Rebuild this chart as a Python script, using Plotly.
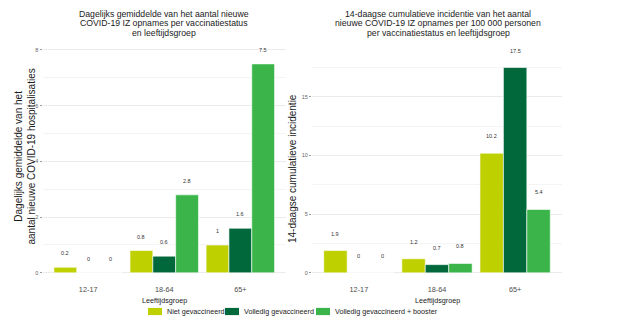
import plotly.graph_objects as go

# ---- data ----
categories = ["12-17", "18-64", "65+"]
series_names = ["Niet gevaccineerd", "Volledig gevaccineerd", "Volledig gevaccineerd + booster"]
daily_niet = [0.2, 0.8, 1.0]
daily_volledig = [0.0, 0.6, 1.6]
daily_booster = [0.0, 2.8, 7.5]
inc_niet = [1.9, 1.2, 10.2]
inc_volledig = [0.0, 0.7, 17.5]
inc_booster = [0.0, 0.8, 5.4]

left_title = ["Dagelijks gemiddelde van het aantal nieuwe",
              "COVID-19 IZ opnames per vaccinatiestatus",
              "en leeftijdsgroep"]
right_title = ["14-daagse cumulatieve incidentie van het aantal",
               "nieuwe COVID-19 IZ opnames per 100 000 personen",
               "per vaccinatiestatus en leeftijdsgroep"]
left_ytitle = "Dagelijks gemiddelde van het<br>aantal nieuwe COVID-19 hospitalisaties"
right_ytitle = "14-daagse cumulatieve incidentie"
xtitle = "Leeftijdsgroep"

# ---- style ----
colors = ["#BFD000", "#00683A", "#3BB54A"]
FONT = "Liberation Sans, Arial, sans-serif"
W, H = 624, 324
PANEL_TOP, PANEL_BOT = 38.8, 284.0
LEFT_DOM = (42.5, 286.0)
RIGHT_DOM = (312.0, 562.0)

def px(x):
    return x / W

def py(y):
    return 1 - y / H

fig = go.Figure()
left_series = [daily_niet, daily_volledig, daily_booster]
right_series = [inc_niet, inc_volledig, inc_booster]

for j, (name, col) in enumerate(zip(series_names, colors)):
    fig.add_trace(go.Bar(x=categories, y=left_series[j], name=name, marker_color=col,
                         marker_line_color="white", marker_line_width=0.6,
                         xaxis="x", yaxis="y", showlegend=False, offsetgroup=str(j)))
    fig.add_trace(go.Bar(x=categories, y=right_series[j], name=name, marker_color=col,
                         marker_line_color="white", marker_line_width=0.6,
                         xaxis="x2", yaxis="y2", showlegend=False, offsetgroup=str(j)))

annotations = []
bar_w = 0.3

def fmt(v):
    return "%g" % v

for j in range(3):
    for i in range(len(categories)):
        xpos = i + (j - 1) * bar_w
        annotations.append(dict(x=xpos, y=left_series[j][i] + 0.5, xref="x", yref="y",
                                text=fmt(left_series[j][i]), showarrow=False,
                                font=dict(size=5.5, color="#333333", family=FONT)))
        annotations.append(dict(x=xpos, y=right_series[j][i] + 1.45, xref="x2", yref="y2",
                                text=fmt(right_series[j][i]), showarrow=False,
                                font=dict(size=5.5, color="#333333", family=FONT)))

title_ys = [14, 23.5, 32.5]
for k, line in enumerate(left_title):
    annotations.append(dict(x=px((LEFT_DOM[0] + LEFT_DOM[1]) / 2), y=py(title_ys[k]),
                            xref="paper", yref="paper", text=line, showarrow=False,
                            xanchor="center", yanchor="middle",
                            font=dict(size=8.7, color="#1a1a1a", family=FONT)))
for k, line in enumerate(right_title):
    annotations.append(dict(x=px((RIGHT_DOM[0] + RIGHT_DOM[1]) / 2 + 1.5), y=py(title_ys[k]),
                            xref="paper", yref="paper", text=line, showarrow=False,
                            xanchor="center", yanchor="middle",
                            font=dict(size=8.7, color="#1a1a1a", family=FONT)))

# y axis titles
annotations.append(dict(x=px(24.5), y=py(157), xref="paper", yref="paper", text=left_ytitle,
                        textangle=-90, showarrow=False, xanchor="center", yanchor="middle",
                        font=dict(size=10, color="#1a1a1a", family=FONT)))
annotations.append(dict(x=px(292), y=py(169), xref="paper", yref="paper", text=right_ytitle,
                        textangle=-90, showarrow=False, xanchor="center", yanchor="middle",
                        font=dict(size=10, color="#1a1a1a", family=FONT)))
# x axis titles
for dom in (LEFT_DOM, RIGHT_DOM):
    annotations.append(dict(x=px((dom[0] + dom[1]) / 2), y=py(300), xref="paper", yref="paper",
                            text=xtitle, showarrow=False, xanchor="center", yanchor="middle",
                            font=dict(size=7.2, color="#1a1a1a", family=FONT)))

# custom legend
shapes = []
leg_x = [148, 225, 316]
leg_y = 311.5
for j, name in enumerate(series_names):
    x0 = leg_x[j]
    shapes.append(dict(type="rect", xref="paper", yref="paper",
                       x0=px(x0), x1=px(x0 + 14), y0=py(leg_y + 3.6), y1=py(leg_y - 3.6),
                       fillcolor=colors[j], line=dict(width=0)))
    annotations.append(dict(x=px(x0 + 17), y=py(leg_y), xref="paper", yref="paper",
                            text=name, showarrow=False, xanchor="left", yanchor="middle",
                            font=dict(size=7.2, color="#1a1a1a", family=FONT)))

common_x = dict(type="category", range=[-0.6, 2.6], showgrid=False, zeroline=False,
                showline=False, ticks="",
                tickfont=dict(size=7.3, color="#4d4d4d", family=FONT))
common_y = dict(showgrid=True, gridcolor="#ebebeb", gridwidth=0.8, zeroline=False,
                showline=False, ticks="outside", ticklen=2, tickcolor="#999999",
                tickfont=dict(size=5.5, color="#666666", family=FONT),
                domain=[py(PANEL_BOT), py(PANEL_TOP)])

fig.update_layout(
    width=W, height=H,
    margin=dict(l=0, r=0, t=0, b=0),
    paper_bgcolor="white", plot_bgcolor="white",
    barmode="group", bargap=0.1, bargroupgap=0.0,
    showlegend=False,
    font=dict(family=FONT),
    xaxis=dict(common_x, domain=[px(LEFT_DOM[0]), px(LEFT_DOM[1])], anchor="y"),
    xaxis2=dict(common_x, domain=[px(RIGHT_DOM[0]), px(RIGHT_DOM[1])], anchor="y2"),
    yaxis=dict(common_y, range=[-0.4, 8.4], dtick=2, anchor="x",
               minor=dict(dtick=1, showgrid=True, gridcolor="#f4f4f4", gridwidth=0.6)),
    yaxis2=dict(common_y, range=[-0.95, 19.95], dtick=5, anchor="x2",
                minor=dict(dtick=2.5, showgrid=True, gridcolor="#f4f4f4", gridwidth=0.6)),
    annotations=annotations,
    shapes=shapes,
)

fig.write_html("out.html")
